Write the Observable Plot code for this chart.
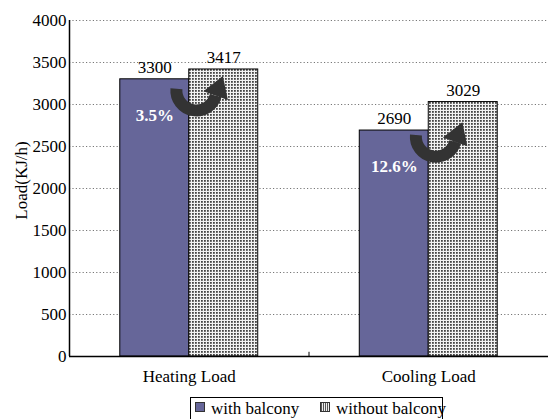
<!DOCTYPE html>
<html>
<head>
<meta charset="utf-8">
<script src="https://cdn.jsdelivr.net/npm/d3@7"></script>
<script src="https://cdn.jsdelivr.net/npm/@observablehq/plot@0.6"></script>
<style>
  html, body { margin: 0; padding: 0; background: #fff; }
  body { width: 548px; height: 419px; overflow: hidden; position: relative; font-family: "Liberation Serif", "Times New Roman", serif; }
  #chart svg text { font-family: "Liberation Serif", "Times New Roman", serif; }
  #legend { position: absolute; left: 190px; top: 397px; width: 253px; height: 30px; border: 1px solid #000; box-sizing: border-box; font-size: 17px; color: #000; white-space: nowrap; }
  #legend .item { position: absolute; top: 0px; line-height: 21px; }
  #legend .sw { display: inline-block; width: 8px; height: 8px; border: 1px solid #333; margin-right: 6px; vertical-align: 2px; }
</style>
</head>
<body>
<div id="chart"></div>
<div id="legend"></div>
<script>
// ---- data ----
const categories = ["Heating Load", "Cooling Load"];
const seriesNames = ["with balcony", "without balcony"];
const withBalcony = [3300, 2690];
const withoutBalcony = [3417, 3029];
const percentLabels = ["3.5%", "12.6%"];
const arrowCenterY = [3120, 2570];
const yTicks = [0, 500, 1000, 1500, 2000, 2500, 3000, 3500, 4000];

const purple = "#666699";
const halfW = 0.288;
const serif = "'Liberation Serif', 'Times New Roman', serif";

const rowsWith = categories.map((c, i) => ({cat: c, value: withBalcony[i], x1: i + 0.5 - halfW, x2: i + 0.5, xc: i + 0.5 - halfW / 2}));
const rowsWithout = categories.map((c, i) => ({cat: c, value: withoutBalcony[i], x1: i + 0.5, x2: i + 0.5 + halfW, xc: i + 0.5 + halfW / 2}));
const pctRows = categories.map((c, i) => ({label: percentLabels[i], xc: i + 0.5 - halfW / 2, value: withBalcony[i]}));

const chart = Plot.plot({
  width: 548,
  height: 392,
  marginLeft: 69,
  marginRight: 0,
  marginTop: 20,
  marginBottom: 36,
  style: {fontFamily: serif, fontSize: "17px", color: "#000", background: "#fff", overflow: "visible"},
  x: {domain: [0, 2], axis: null},
  y: {domain: [0, 4000], axis: null},
  marks: [
    Plot.gridY(yTicks.filter(d => d > 0), {stroke: "#777", strokeOpacity: 1, strokeDasharray: "1.2,2.2", strokeWidth: 1}),
    Plot.axisY({ticks: yTicks, tickFormat: d => String(d), tickSize: 0, tickPadding: 3, label: null, fontSize: 17, fontFamily: serif}),
    Plot.axisX({ticks: [0.5, 1.5], tickFormat: v => categories[Math.floor(v)], tickSize: 0, tickPadding: 13, label: null, fontSize: 17, fontFamily: serif}),
    Plot.rectY(rowsWith, {x1: "x1", x2: "x2", y: "value", fill: purple, stroke: "#000", strokeWidth: 1}),
    Plot.rectY(rowsWithout, {x1: "x1", x2: "x2", y: "value", fill: "url(#dots)", stroke: "#000", strokeWidth: 1}),
    Plot.ruleY([0], {stroke: "#000", strokeWidth: 1.5}),
    Plot.ruleX([0], {stroke: "#000", strokeWidth: 1.5}),
    Plot.ruleX([1], {y1: 0, y2: 50, stroke: "#000"}),
    Plot.text(rowsWith, {x: "xc", y: "value", text: d => String(d.value), dy: -12, fontSize: 17, fontFamily: serif}),
    Plot.text(rowsWithout, {x: "xc", y: "value", text: d => String(d.value), dy: -12, fontSize: 17, fontFamily: serif}),
    Plot.text(pctRows, {x: "xc", y: "value", text: "label", dy: 36, fill: "#fff", fontWeight: "bold", fontSize: 17, fontFamily: serif}),
    Plot.text(["Load(KJ/h)"], {frameAnchor: "left", textAnchor: "middle", rotate: -90, dx: -48, dy: -8, fontSize: 17, fontFamily: serif})
  ]
});

// pattern defs
const ns = "http://www.w3.org/2000/svg";
const defs = document.createElementNS(ns, "defs");
defs.innerHTML = `<pattern id="dots" patternUnits="userSpaceOnUse" width="3" height="3">
  <rect width="3" height="3" fill="#f2f2f2"/><rect x="0" y="0" width="1.8" height="1.8" fill="#444"/></pattern>`;
chart.insertBefore(defs, chart.firstChild);

// curved arrows, positioned with the plot's scales
const xs = chart.scale("x"), ys = chart.scale("y");
const g = document.createElementNS(ns, "g");
categories.forEach((c, i) => {
  const cx = xs.apply(i + 0.5) + 7;
  const cy = ys.apply(arrowCenterY[i]);
  const r = 20;
  const a0 = 195 * Math.PI / 180, a1 = 5 * Math.PI / 180;
  const sx = cx + r * Math.cos(a0), sy = cy + r * Math.sin(a0);
  const ex = cx + r * Math.cos(a1), ey = cy + r * Math.sin(a1);
  const path = document.createElementNS(ns, "path");
  path.setAttribute("d", `M${sx},${sy}A${r},${r} 0 0 0 ${ex},${ey}`);
  path.setAttribute("fill", "none");
  path.setAttribute("stroke", "#333");
  path.setAttribute("stroke-width", 12);
  g.appendChild(path);
  const ang = 20 * Math.PI / 180;
  const dx = Math.sin(ang), dy = -Math.cos(ang);
  const nx = -dy, ny = dx;
  const tipX = ex + dx * 21, tipY = ey + dy * 21;
  const head = document.createElementNS(ns, "path");
  head.setAttribute("d", `M${ex + nx * 13},${ey + ny * 13}L${tipX},${tipY}L${ex - nx * 13},${ey - ny * 13}Z`);
  head.setAttribute("fill", "#333");
  g.appendChild(head);
});
chart.appendChild(g);

document.getElementById("chart").appendChild(chart);

// legend
const legend = document.getElementById("legend");
const lefts = [4, 129];
seriesNames.forEach((name, i) => {
  const item = document.createElement("div");
  item.className = "item";
  item.style.left = lefts[i] + "px";
  const sw = document.createElement("span");
  sw.className = "sw";
  if (i === 0) sw.style.background = purple;
  else sw.style.background = "repeating-linear-gradient(90deg,#555 0 1px,#eee 1px 2px)";
  item.appendChild(sw);
  item.appendChild(document.createTextNode(name));
  legend.appendChild(item);
});
</script>
</body>
</html>
